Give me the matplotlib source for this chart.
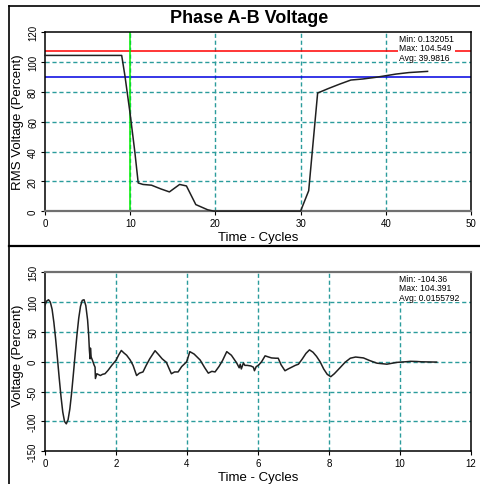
import matplotlib
matplotlib.use("Agg")
import matplotlib.pyplot as plt
from matplotlib.lines import Line2D

plt.rcParams['font.family'] = ['Liberation Sans', 'DejaVu Sans']
plt.rcParams['axes.unicode_minus'] = False

# ---------------- data ----------------
title = "Phase A-B Voltage"

rms_t = [0, 9.0, 9.38, 10.0, 10.55, 10.94, 11.5, 12.5, 13.6, 14.6, 15.8, 16.6, 17.7,
         19.1, 19.8, 25.0, 30.0, 30.95, 32.0, 33.3, 34.6, 35.9, 37.3, 38.8, 40.0,
         41.2, 42.7, 44.9]
rms_v = [104.5, 104.5, 90.9, 65.0, 39.5, 19.0, 18.0, 17.5, 15.0, 13.0, 18.0, 17.0, 4.5,
         1.0, 0.13, 0.13, 0.13, 13.8, 79.3, 82.4, 85.3, 88.0, 88.7, 89.8, 90.9,
         92.0, 93.0, 93.8]
rms_high_limit = 107.3
rms_low_limit = 90.0
event_cycle = 10.0
rms_stats = "Min: 0.132051\nMax: 104.549\nAvg: 39.9816"

wave_t = [0.00, 0.05, 0.10, 0.15, 0.20, 0.25, 0.30, 0.35, 0.40, 0.45, 0.50, 0.55,
          0.60, 0.65, 0.70, 0.75, 0.80, 0.85, 0.90, 0.95, 1.00, 1.05, 1.10, 1.15,
          1.20, 1.23, 1.25, 1.27, 1.28, 1.30, 1.34, 1.38, 1.41, 1.42, 1.46, 1.56,
          1.62, 1.69, 1.78, 1.88, 2.00, 2.08, 2.15, 2.22, 2.30, 2.40, 2.48, 2.58,
          2.66, 2.76, 2.85, 2.95, 3.10, 3.20, 3.30, 3.42, 3.50, 3.56, 3.65, 3.75,
          3.85, 3.99, 4.08, 4.20, 4.37, 4.50, 4.60, 4.70, 4.79, 4.90, 5.00, 5.12,
          5.25, 5.40, 5.47, 5.50, 5.53, 5.59, 5.63, 5.70, 5.80, 5.87, 5.90, 5.95,
          6.01, 6.10, 6.20, 6.30, 6.38, 6.50, 6.57, 6.65, 6.76, 6.85, 6.95, 7.05,
          7.14, 7.25, 7.35, 7.45, 7.55, 7.65, 7.75, 7.85, 7.95, 8.05, 8.15, 8.31,
          8.45, 8.60, 8.75, 8.97, 9.15, 9.35, 9.63, 9.91, 10.19, 10.30, 10.47,
          10.60, 11.03]
wave_v = [95, 102, 104, 100, 88, 66, 38, 6, -27, -58, -84, -100,
          -104, -97, -79, -52, -20, 13, 45, 73, 93, 103, 104, 94,
          70, 45, 20, 5, 23, 8, 2, -5, -9, -28, -20, -23,
          -21, -20, -14, -6, 2.5, 12, 19, 15, 11, 3, -6, -23,
          -19, -17, -6, 5, 18.6, 12, 5, -1, -12, -20, -17, -17,
          -8, 0, 17, 13, 3, -10, -19, -16, -17, -8, 2, 17,
          11, -2, -10, -4, -12, -2, -6, -6, -7, -9, -15, -8,
          -6, 0, 10, 8, 6.5, 6, 6, -5, -15, -12, -9, -6,
          -4, 5, 14, 20, 16, 9, 0, -12, -21, -25, -20, -10,
          -1, 6, 8, 6.5, 2, -2.3, -4, -1, 0.2, 0.8, 0.5,
          0, -0.5]
wave_stats = "Min: -104.36\nMax: 104.391\nAvg: 0.0155792"

# ---------------- figure ----------------
W, H = 481, 485
fig = plt.figure(figsize=(W / 100, H / 100), dpi=100)
fig.patch.set_facecolor('white')

def px_axes(left, top, right, bottom):
    return fig.add_axes([left / W, (H - bottom) / H, (right - left) / W, (bottom - top) / H])

ax1 = px_axes(45, 33.3, 471, 212.3)
ax2 = px_axes(45, 273.3, 471, 452.3)

grid_color = '#2b9c9c'
tick_fs = 7
label_fs = 9.5

def style(ax, xlim, ylim, xticks, yticks, gray_spine):
    ax.set_xlim(*xlim)
    ax.set_ylim(*ylim)
    ax.set_xticks(xticks)
    ax.set_yticks(yticks)
    ax.set_facecolor('white')
    for s in ax.spines.values():
        s.set_color('black')
        s.set_linewidth(1.1)
    ax.spines[gray_spine].set_color('#707070')
    ax.spines[gray_spine].set_linewidth(1.6)
    ax.tick_params(direction='out', length=3, width=0.8, labelsize=tick_fs, pad=2)
    for lab in ax.get_yticklabels():
        lab.set_rotation(90)
        lab.set_va('center')
    for v in xticks[1:-1]:
        ax.axvline(v, color=grid_color, lw=1, dashes=(3, 2), zorder=1)
    for v in yticks[1:-1]:
        ax.axhline(v, color=grid_color, lw=1, dashes=(3, 2), zorder=1)

# ---- top panel ----
style(ax1, (0, 50), (0, 120), [0, 10, 20, 30, 40, 50], [0, 20, 40, 60, 80, 100, 120], 'bottom')
ax1.axhline(rms_high_limit, color='#ff0000', lw=1.1, zorder=2)
ax1.axhline(rms_low_limit, color='#0000e0', lw=1.1, zorder=2)
ax1.axvline(event_cycle, color='#00ee00', lw=1.1, zorder=2)
ax1.plot(rms_t, rms_v, color='#202020', lw=1.1, zorder=3, clip_on=False)
ax1.set_ylabel("RMS Voltage (Percent)", fontsize=label_fs, va='center')
ax1.yaxis.set_label_coords((18.5 - 45) / 426, 0.506)
ax1.set_xlabel("Time - Cycles", fontsize=label_fs, va='center')
ax1.xaxis.set_label_coords(0.5, -0.1436)
ax1.text((399 - 45) / 426, (212.3 - 35) / 179, rms_stats, transform=ax1.transAxes,
         fontsize=6.2, ha='left', va='top', linespacing=1.05, zorder=5,
         bbox=dict(facecolor='white', edgecolor='none', pad=0.5))

# ---- bottom panel ----
style(ax2, (0, 12), (-150, 150), [0, 2, 4, 6, 8, 10, 12], [-150, -100, -50, 0, 50, 100, 150], 'top')
ax2.plot(wave_t, wave_v, color='#202020', lw=1.1, zorder=3)
ax2.set_ylabel("Voltage (Percent)", fontsize=label_fs, va='center')
ax2.yaxis.set_label_coords((18.5 - 45) / 426, 0.539)
ax2.set_xlabel("Time - Cycles", fontsize=label_fs, va='center')
ax2.xaxis.set_label_coords(0.5, -0.1436)
ax2.text((399 - 45) / 426, (452.3 - 275) / 179, wave_stats, transform=ax2.transAxes,
         fontsize=6.2, ha='left', va='top', linespacing=1.05, zorder=5,
         bbox=dict(facecolor='white', edgecolor='none', pad=0.5))

# ---- title and frame lines ----
fig.text(249 / W, 1 - 18.5 / H, title, fontsize=13, fontweight='bold', ha='center', va='center')
fig.add_artist(Line2D([9 / W, 9 / W], [0, 1 - 7 / H], color='black', lw=1.2))
fig.add_artist(Line2D([9 / W, 1], [1 - 7 / H, 1 - 7 / H], color='black', lw=1.2))
fig.add_artist(Line2D([9 / W, 1], [1 - 247 / H, 1 - 247 / H], color='black', lw=1.6))

fig.savefig("out.png", dpi=100, facecolor='white')
